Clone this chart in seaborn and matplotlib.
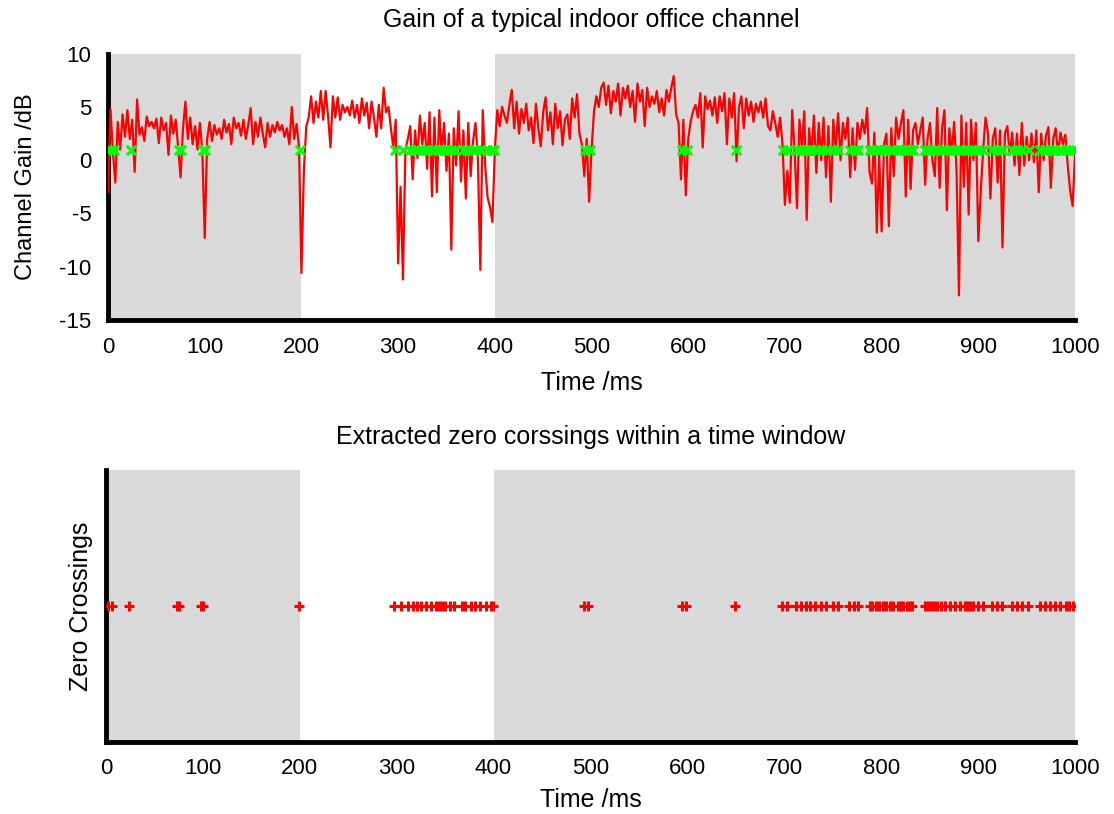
import numpy as np
import pandas as pd
import matplotlib
matplotlib.use('Agg')
import matplotlib.pyplot as plt
import seaborn as sns

# Channel gain in dB, sampled every 2.5 ms (one list per 100 ms block)
gain_000 = [-3.0, 4.8, 0.8, -2.1, 3.6, 1.0, 4.3, 2.2, 4.7, 2.0,
            3.8, -1.1, 5.7, 2.4, 3.1, 1.8, 4.1, 3.2, 3.6, 3.0,
            3.9, 1.6, 4.0, 2.8, 3.5, 0.5, 4.2, 2.5, 3.8, 1.2,
            -1.6, 3.0, 5.5, 2.0, 4.0, 1.5, 3.2, 1.0, 3.5, 0.8]
gain_100 = [-7.3, 2.0, 3.6, 1.8, 3.3, 2.4, 3.0, 2.0, 3.8, 2.6,
            3.4, 1.5, 4.0, 3.0, 3.5, 2.3, 3.8, 2.0, 3.3, 4.9,
            1.5, 3.6, 2.2, 4.0, 2.5, 1.2, 3.5, 2.2, 3.3, 2.6,
            3.6, 2.8, 3.3, 2.2, 3.0, 1.5, 5.0, 2.0, 3.4, 1.2]
gain_200 = [-10.6, -1.0, 3.2, 4.0, 6.0, 3.5, 5.5, 4.0, 6.5, 3.8,
            6.5, 4.2, 1.2, 6.0, 4.0, 5.9, 3.8, 5.2, 4.5, 5.0,
            4.2, 5.6, 4.0, 5.2, 3.5, 5.8, 4.2, 5.4, 3.0, 5.5,
            4.0, 2.2, 5.2, 3.0, 6.8, 4.5, 5.0, 3.0, 1.2, 3.8]
gain_300 = [-9.7, -2.5, -11.2, 1.0, 2.0, 3.2, -1.8, 2.8, 0.2, 4.2,
            1.5, 3.5, -0.8, 4.5, -3.4, 4.0, -3.0, 4.7, 0.5, 3.5,
            -1.0, 2.5, -8.4, 3.0, -0.5, 4.6, -2.0, 2.8, -3.6, 3.5,
            -1.5, 1.8, 3.5, 0.0, -10.3, 4.7, -0.5, -3.5, -4.4, -5.8]
gain_400 = [1.0, 4.7, 3.2, 5.0, 4.2, 3.5, 5.2, 6.6, 3.0, 5.5,
            2.5, 4.8, 3.5, 5.3, 2.8, 4.0, 1.6, 5.3, 3.0, 1.3,
            4.5, 5.9, 2.8, 4.5, 1.5, 5.3, 3.0, 4.6, 1.4, 3.8,
            4.3, 2.0, 5.8, 4.0, 6.2, 2.5, 1.5, -1.5, 2.0, -3.9]
gain_500 = [1.0, 4.5, 6.0, 5.0, 6.8, 7.3, 5.2, 7.0, 4.4, 6.5,
            5.5, 7.2, 4.2, 6.8, 5.8, 7.0, 5.0, 6.5, 3.6, 7.2,
            5.5, 6.6, 3.2, 6.8, 5.0, 6.0, 5.3, 6.5, 4.5, 5.8,
            4.2, 6.6, 5.5, 6.8, 7.9, 4.3, 3.5, -1.8, 3.8, -3.3]
gain_600 = [2.0, 3.6, 4.6, 5.2, 4.0, 6.3, 1.2, 6.0, 4.8, 5.6,
            4.2, 5.9, 3.5, 6.0, 4.6, 6.3, 1.5, 5.8, 4.0, 6.3,
            -0.1, 5.0, 6.0, 3.0, 5.8, 4.2, 5.5, 3.6, 5.3, 4.5,
            5.5, 4.0, 5.8, 3.2, 2.8, 4.6, 3.5, 2.2, 4.0, 1.5]
gain_700 = [-4.2, -1.0, -4.0, 4.7, 1.0, -4.5, 3.8, 1.2, 4.6, -5.6,
            3.0, 0.5, 4.2, -1.2, 3.5, 0.0, 4.0, -1.6, 3.2, -3.9,
            3.8, 1.0, 4.4, 0.0, 3.5, 2.0, 4.0, -1.6, 3.0, -0.9,
            3.5, 2.0, 3.8, 2.5, 4.9, -1.1, -2.2, 2.6, -6.8, 0.5]
gain_800 = [-6.7, 1.5, 2.5, -6.2, 3.0, -1.5, 4.0, 2.0, 3.5, 4.7,
            -3.4, 3.8, -2.7, 2.8, 3.5, 1.5, 2.8, 4.0, -2.3, 2.0,
            3.5, 0.0, -1.5, 4.9, -2.6, 3.0, 4.7, -4.7, 3.0, 0.5,
            3.6, -1.0, -12.7, 4.2, -2.5, 3.5, -5.1, 3.8, 0.0, 3.5]
gain_900 = [-7.6, -3.0, 1.0, 4.0, 2.5, -3.6, 2.0, 3.0, -2.1, 2.8,
            -8.2, 2.5, 3.2, 0.5, 2.6, -0.5, 2.5, -1.4, 3.5, -0.5,
            2.2, 0.0, 2.5, -0.2, 2.8, -3.0, 2.5, 0.0, 2.3, 3.1,
            -2.6, 2.0, 3.0, 0.5, 2.6, 1.5, 2.4, -0.5, -2.9, -4.3]
gain_end = [0.5]

# zero crossing instants (ms)
crossings = [2, 6, 24, 73, 75, 98, 100, 199,
             297, 305, 312, 317, 321, 325, 330, 335, 341, 344, 347, 350,
             355, 359, 367, 371, 377, 381, 386, 392, 397, 399,
             493, 498, 594, 599, 649,
             698, 703, 712, 717, 722, 727, 732, 738, 743, 750, 755, 767, 772, 776,
             788, 791, 795, 798, 802, 805, 809, 812, 817, 820, 823, 827, 830, 832,
             845, 848, 851, 855, 858, 862, 866, 871, 876, 881, 886, 889, 892, 895,
             900, 905, 914, 919, 925, 935, 940, 945, 952,
             964, 969, 974, 979, 984, 991, 994, 998]

shaded = [(0, 200), (400, 1000)]

gain = (gain_000 + gain_100 + gain_200 + gain_300 + gain_400 + gain_500
        + gain_600 + gain_700 + gain_800 + gain_900 + gain_end)
time = np.arange(len(gain)) * 2.5
df = pd.DataFrame({'time': time, 'gain': gain})
zc = pd.DataFrame({'time': crossings, 'top': 1.0, 'bottom': 0.0})

sns.set_theme(style='white')
plt.rcParams['font.family'] = ['Liberation Sans', 'DejaVu Sans']
plt.rcParams['axes.unicode_minus'] = False
plt.rcParams['text.color'] = 'black'
plt.rcParams['axes.labelcolor'] = 'black'
plt.rcParams['xtick.color'] = 'black'
plt.rcParams['ytick.color'] = 'black'

fig = plt.figure(figsize=(11.14, 8.14), dpi=100)
ax1 = fig.add_axes([0.097, 0.607, 0.868, 0.327])
ax2 = fig.add_axes([0.095, 0.088, 0.870, 0.334])

for ax in (ax1, ax2):
    for a, b in shaded:
        ax.axvspan(a, b, color='#d9d9d9', lw=0, zorder=0)
    ax.set_xlim(0, 1000)
    ax.set_xticks(range(0, 1001, 100))
    for s in ('top', 'right'):
        ax.spines[s].set_visible(False)
    for s in ('left', 'bottom'):
        ax.spines[s].set_linewidth(3.5)
        ax.spines[s].set_color('black')
    ax.tick_params(axis='x', direction='in', length=5, width=2, labelsize=16)

# top: channel gain
sns.lineplot(data=df, x='time', y='gain', ax=ax1, color='red', lw=1.6,
             estimator=None, zorder=3)
sns.scatterplot(data=zc, x='time', y='top', ax=ax1, marker='x', color='#00ff00',
                s=45, linewidth=2.2, zorder=4)
ax1.set_ylim(-15, 10)
ax1.set_yticks(range(-15, 11, 5))
ax1.tick_params(axis='x', pad=12)
ax1.tick_params(axis='y', length=0, labelsize=16, pad=12)
ax1.set_xlabel('Time /ms', fontsize=18, labelpad=10)
ax1.set_ylabel('Channel Gain /dB', fontsize=17, labelpad=16)
ax1.set_title('Gain of a typical indoor office channel', fontsize=18, pad=19)

# bottom: extracted zero crossings
sns.scatterplot(data=zc, x='time', y='bottom', ax=ax2, marker='+', color='red',
                s=55, linewidth=2.2, zorder=4)
ax2.set_ylim(-1, 1)
ax2.set_yticks([])
ax2.tick_params(axis='x', pad=11)
ax2.set_xlabel('Time /ms', fontsize=18, labelpad=7)
ax2.set_ylabel('Zero Crossings', fontsize=18, labelpad=9)
ax2.set_title('Extracted zero corssings within a time window', fontsize=18, pad=19)

fig.savefig('out.png', dpi=100)
